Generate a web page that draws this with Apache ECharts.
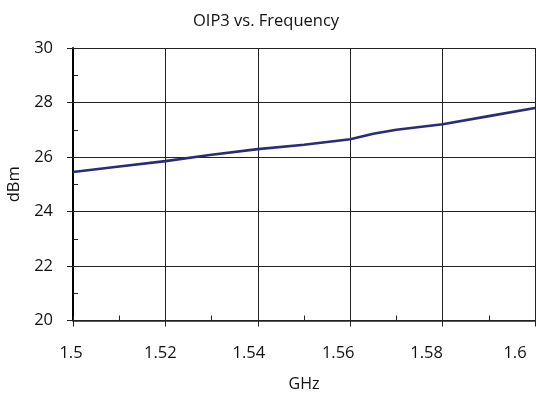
<!DOCTYPE html>
<html>
<head>
<meta charset="utf-8">
<script src="https://cdn.jsdelivr.net/npm/echarts@6/dist/echarts.min.js"></script>
<style>
  html, body { margin: 0; padding: 0; background: #fff; }
  #chart { width: 536px; height: 393px; }
</style>
</head>
<body>
<div id="chart"></div>
<script>
// Output third-order intercept point across the band
const freqGHz = [1.50, 1.51, 1.52, 1.53, 1.54, 1.55, 1.56, 1.565, 1.57, 1.58, 1.59, 1.60];
const oip3dBm = [25.45, 25.65, 25.85, 26.08, 26.29, 26.45, 26.65, 26.85, 27.0, 27.2, 27.5, 27.8];

const xMin = 1.5, xMax = 1.6, xStep = 0.02, xMinorStep = 0.01;
const yMin = 20, yMax = 30, yStep = 2, yMinorStep = 1;

const FONT = '"Open Sans", "DejaVu Sans", sans-serif';
const INK = '#111';

// frequency labels drift a little left of their ticks toward the right end
const labelRich = {};
for (let k = 0; k <= 5; k++) {
  const shift = Math.round(1.5 + 3.6 * k);
  labelRich['t' + k] = { fontFamily: FONT, fontSize: 16.5, color: INK, padding: [0, shift * 2, 0, 0] };
}

const chart = echarts.init(document.getElementById('chart'), null, { renderer: 'canvas' });

chart.setOption({
  animation: false,
  backgroundColor: '#fff',
  title: {
    text: 'OIP3 vs. Frequency',
    left: 188,
    top: 8,
    textStyle: { fontFamily: FONT, fontSize: 16.5, fontWeight: 'normal', color: INK }
  },
  grid: { left: 73, right: 1, top: 48, bottom: 72.5, outerBoundsMode: 'none', containLabel: false },
  xAxis: [
    {
      type: 'value', min: xMin, max: xMax, interval: xStep,
      name: 'GHz', nameLocation: 'middle', nameGap: 56,
      nameTextStyle: { fontFamily: FONT, fontSize: 16, color: INK },
      axisLine: { show: true, onZero: false, lineStyle: { color: '#222', width: 1.5 } },
      axisTick: { show: true, inside: false, length: 6, lineStyle: { color: '#222', width: 1 } },
      axisLabel: {
        fontFamily: FONT, fontSize: 16.5, color: INK, margin: 24,
        formatter: v => {
          const k = Math.round((v - xMin) / xStep);
          return '{t' + k + '|' + String(parseFloat(v.toFixed(3))) + '}';
        },
        rich: labelRich
      },
      splitLine: { show: true, lineStyle: { color: '#222', width: 1 } }
    },
    {
      // inner minor ticks along the frequency axis
      type: 'value', min: xMin, max: xMax, interval: xMinorStep, position: 'bottom',
      axisLine: { show: false },
      axisTick: { show: true, inside: true, length: 5, lineStyle: { color: '#222', width: 1 } },
      axisLabel: { show: false },
      splitLine: { show: false }
    }
  ],
  yAxis: [
    {
      type: 'value', min: yMin, max: yMax, interval: yStep,
      name: 'dBm', nameLocation: 'middle', nameGap: 50,
      nameTextStyle: { fontFamily: FONT, fontSize: 16.5, color: INK },
      axisLine: { show: true, onZero: false, lineStyle: { color: '#000', width: 2 } },
      axisTick: { show: true, inside: false, length: 6, lineStyle: { color: '#222', width: 1 } },
      axisLabel: { fontFamily: FONT, fontSize: 16.5, color: INK, margin: 20 },
      splitLine: { show: true, lineStyle: { color: '#222', width: 1 } }
    },
    {
      // inner minor ticks along the power axis
      type: 'value', min: yMin, max: yMax, interval: yMinorStep, position: 'left',
      axisLine: { show: false },
      axisTick: { show: true, inside: true, length: 5, lineStyle: { color: '#222', width: 1 } },
      axisLabel: { show: false },
      splitLine: { show: false }
    }
  ],
  series: [
    {
      type: 'line',
      xAxisIndex: 0, yAxisIndex: 0,
      data: freqGHz.map((f, i) => [f, oip3dBm[i]]),
      showSymbol: false,
      smooth: false,
      lineStyle: { color: '#2a2c78', width: 2.6 },
      clip: true
    }
  ]
});
</script>
</body>
</html>
